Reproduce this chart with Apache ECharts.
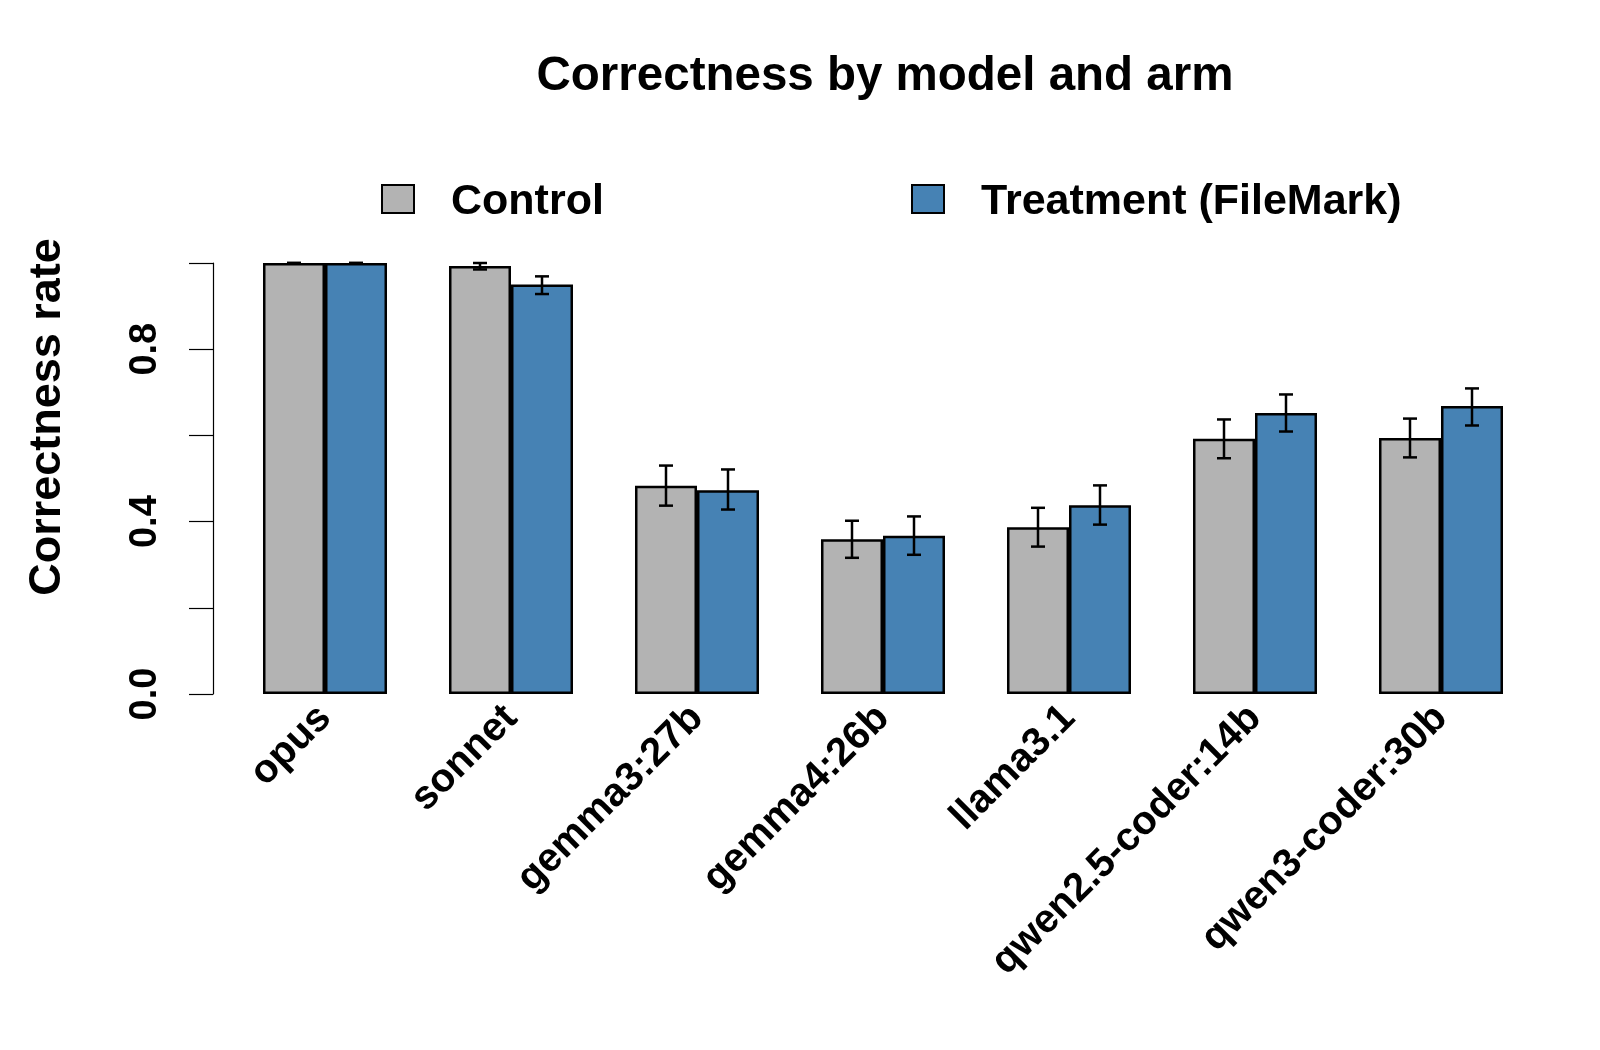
<!DOCTYPE html>
<html>
<head>
<meta charset="utf-8">
<script src="https://cdn.jsdelivr.net/npm/echarts@6/dist/echarts.min.js"></script>
<style>
  html, body { margin: 0; padding: 0; background: #fff; }
  #main { width: 1600px; height: 1050px; }
</style>
</head>
<body>
<div id="main"></div>
<script>
// models and correctness rates
var models = ['opus', 'sonnet', 'gemma3:27b', 'gemma4:26b', 'llama3.1', 'qwen2.5-coder:14b', 'qwen3-coder:30b'];
var control = [1.0, 0.993, 0.483, 0.359, 0.387, 0.592, 0.594];
var controlLo = [1.0, 0.985, 0.437, 0.316, 0.342, 0.547, 0.549];
var controlHi = [1.0, 1.0, 0.530, 0.402, 0.432, 0.637, 0.639];
var treatment = [1.0, 0.950, 0.473, 0.367, 0.438, 0.652, 0.668];
var treatmentLo = [1.0, 0.928, 0.428, 0.323, 0.393, 0.609, 0.623];
var treatmentHi = [1.0, 0.969, 0.521, 0.412, 0.484, 0.695, 0.709];
var yTickLabels = ['0.0', '', '0.4', '', '0.8', ''];

var FONT = '"Liberation Sans", Arial, Helvetica, sans-serif';
var GREY = '#b3b3b3';
var BLUE = '#4682b4';

var chart = echarts.init(document.getElementById('main'), null, { renderer: 'canvas' });

// error bars: side -1 = control (left half of group), +1 = treatment
function errData(lo, hi) {
  var out = [];
  for (var i = 0; i < lo.length; i++) out.push([i, lo[i], hi[i]]);
  return out;
}
function errRender(side) {
  return function (params, api) {
    var c = api.value(0);
    var band = api.size([1, 0])[0];
    var lo = api.coord([c, api.value(1)]);
    var hi = api.coord([c, api.value(2)]);
    var x = lo[0] + side * band / 6;
    var cap = 7;
    var style = { stroke: '#000', lineWidth: 2.5 };
    return {
      type: 'group',
      children: [
        { type: 'line', shape: { x1: x, y1: lo[1], x2: x, y2: hi[1] }, style: style },
        { type: 'line', shape: { x1: x - cap, y1: lo[1], x2: x + cap, y2: lo[1] }, style: style },
        { type: 'line', shape: { x1: x - cap, y1: hi[1], x2: x + cap, y2: hi[1] }, style: style }
      ]
    };
  };
}

var legendText = {
  fontFamily: FONT, fontWeight: 'bold', fontSize: 43, color: '#000',
  padding: [0, 0, 0, 32],
  rich: {
    t: { fontFamily: FONT, fontWeight: 'bold', fontSize: 43, color: '#000', padding: [7, 0, 0, 0] }
  }
};

var option = {
  animation: false,
  backgroundColor: '#fff',
  title: {
    text: 'Correctness by model and arm',
    left: 880,
    top: 48,
    textAlign: 'center',
    textStyle: { fontFamily: FONT, fontWeight: 'bold', fontSize: 47.5, color: '#000' }
  },
  legend: [
    {
      data: ['Control'],
      left: 381, top: 181, padding: 0,
      itemWidth: 32, itemHeight: 28,
      icon: 'rect',
      formatter: '{t|{name}}',
      textStyle: legendText
    },
    {
      data: ['Treatment (FileMark)'],
      left: 911, top: 181, padding: 0,
      itemWidth: 32, itemHeight: 28,
      icon: 'rect',
      formatter: '{t|{name}}',
      textStyle: legendText
    }
  ],
  graphic: [
    {
      type: 'text',
      x: 48, y: 417,
      rotation: Math.PI / 2,
      style: {
        text: 'Correctness rate',
        fontFamily: FONT, fontWeight: 'bold', fontSize: 45,
        fill: '#000', align: 'center', verticalAlign: 'middle'
      }
    }
  ],
  grid: { left: 232, right: 66, top: 263, height: 431 },
  xAxis: {
    type: 'category',
    data: models,
    axisLine: { show: false },
    axisTick: { show: false },
    axisLabel: {
      rotate: 45,
      interval: 0,
      margin: 18,
      fontFamily: FONT, fontWeight: 'bold', fontSize: 40, color: '#000'
    }
  },
  yAxis: {
    type: 'value',
    min: 0, max: 1, interval: 0.2,
    offset: 19,
    splitLine: { show: false },
    axisLine: { show: true, lineStyle: { color: '#000', width: 1.2 } },
    axisTick: { show: true, length: 24, lineStyle: { color: '#000', width: 1.2 } },
    axisLabel: {
      rotate: 90,
      margin: 48,
      fontFamily: FONT, fontWeight: 'bold', fontSize: 38, color: '#000',
      formatter: function (v) { return yTickLabels[Math.round(v / 0.2)]; }
    }
  },
  series: [
    {
      name: 'Control', type: 'bar', data: control,
      barGap: '0%', barCategoryGap: '33.333%',
      itemStyle: { color: GREY, borderColor: '#000', borderWidth: 2.5 }
    },
    {
      name: 'Treatment (FileMark)', type: 'bar', data: treatment,
      barGap: '0%', barCategoryGap: '33.333%',
      itemStyle: { color: BLUE, borderColor: '#000', borderWidth: 2.5 }
    },
    {
      type: 'custom', data: errData(controlLo, controlHi),
      renderItem: errRender(-1), z: 5, silent: true,
      encode: { x: 0, y: [1, 2] }
    },
    {
      type: 'custom', data: errData(treatmentLo, treatmentHi),
      renderItem: errRender(1), z: 5, silent: true,
      encode: { x: 0, y: [1, 2] }
    }
  ]
};

chart.setOption(option);
</script>
</body>
</html>
